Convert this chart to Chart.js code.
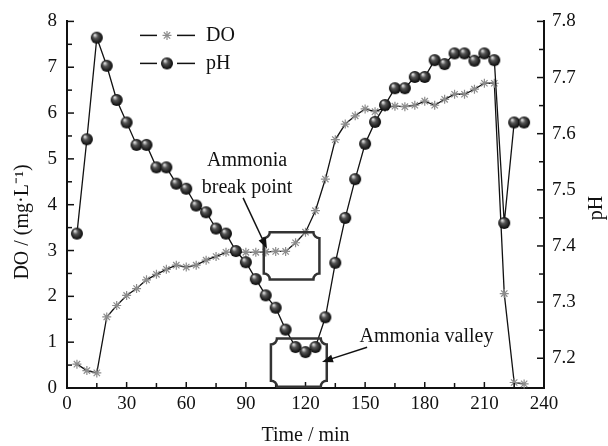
<!DOCTYPE html>
<html>
<head>
<meta charset="utf-8">
<script src="https://cdn.jsdelivr.net/npm/chart.js@4.4.1/dist/chart.umd.min.js"></script>
<style>
html, body { margin: 0; padding: 0; background: #fff; }
#wrap { width: 608px; height: 446px; }
</style>
</head>
<body>
<div id="wrap"><canvas id="do-ph-chart" width="608" height="446"></canvas></div>
<script>
Chart.defaults.font.family = '"Liberation Serif", "Times New Roman", serif'
Chart.defaults.color = '#111'

// time in min
const times = [5, 10, 15, 20, 25, 30, 35, 40, 45, 50, 55, 60, 65, 70, 75, 80, 85, 90, 95, 100, 105, 110, 115, 120,
  125, 130, 135, 140, 145, 150, 155, 160, 165, 170, 175, 180, 185, 190, 195, 200, 205, 210, 215, 220, 225, 230]

const doValues = [0.52, 0.38, 0.33, 1.55, 1.80, 2.02, 2.17, 2.36, 2.48, 2.59, 2.68, 2.64, 2.68, 2.79, 2.87, 2.96,
  2.96, 2.96, 2.96, 2.97, 2.98, 2.98, 3.17, 3.40, 3.87, 4.56, 5.42, 5.76, 5.94, 6.09, 6.03, 6.12, 6.15, 6.14,
  6.17, 6.26, 6.17, 6.30, 6.41, 6.41, 6.52, 6.65, 6.65, 2.06, 0.12, 0.09]

const phValues = [7.422, 7.590, 7.771, 7.721, 7.660, 7.620, 7.580, 7.580, 7.540, 7.540, 7.511, 7.502, 7.472,
  7.460, 7.431, 7.422, 7.391, 7.371, 7.341, 7.312, 7.290, 7.251, 7.220, 7.211, 7.220, 7.273, 7.370, 7.450,
  7.519, 7.582, 7.621, 7.651, 7.681, 7.681, 7.701, 7.701, 7.731, 7.724, 7.743, 7.743, 7.730, 7.743, 7.731,
  7.441, 7.620, 7.620]

const timeTicks = [0, 30, 60, 90, 120, 150, 180, 210, 240]
const doTicks = [0, 1, 2, 3, 4, 5, 6, 7, 8]
const phTicks = [7.2, 7.3, 7.4, 7.5, 7.6, 7.7, 7.8]

const seriesNames = ['DO', 'pH']

// boxes and notes in data units (time, DO)
const boxes = [
  { t0: 99, t1: 127, v0: 2.37, v1: 3.40 },
  { t0: 102.6, t1: 130.7, v0: 0.03, v1: 1.08 }
]
const notes = [
  { lines: ['Ammonia', 'break point'], t: 90.6, v: [4.96, 4.37], align: 'center', from: [88.6, 4.15], to: [100.6, 3.04] },
  { lines: ['Ammonia valley'], t: 147.2, v: [1.11], align: 'left', from: [151, 0.89], to: [128.3, 0.57] }
]

function makeBall(r) {
  const c = document.createElement('canvas')
  const s = r * 2 + 2
  c.width = s; c.height = s
  const g = c.getContext('2d')
  const cx = s / 2, cy = s / 2
  const grad = g.createRadialGradient(cx - r * 0.35, cy - r * 0.45, r * 0.1, cx, cy, r)
  grad.addColorStop(0, '#d8d8d8')
  grad.addColorStop(0.35, '#555')
  grad.addColorStop(1, '#050505')
  g.fillStyle = grad
  g.beginPath(); g.arc(cx, cy, r, 0, Math.PI * 2); g.fill()
  return c
}
const ball = makeBall(6)

const doPoints = times.map((t, i) => ({ x: t, y: doValues[i] }))
const phPoints = times.map((t, i) => ({ x: t, y: phValues[i] }))

function arrow(ctx, x0, y0, x1, y1) {
  const a = Math.atan2(y1 - y0, x1 - x0)
  const len = 11, hw = 4
  ctx.beginPath()
  ctx.moveTo(x0, y0)
  ctx.lineTo(x1 - Math.cos(a) * len * 0.8, y1 - Math.sin(a) * len * 0.8)
  ctx.stroke()
  ctx.beginPath()
  ctx.moveTo(x1, y1)
  ctx.lineTo(x1 - Math.cos(a) * len - Math.sin(a) * hw, y1 - Math.sin(a) * len + Math.cos(a) * hw)
  ctx.lineTo(x1 - Math.cos(a) * len + Math.sin(a) * hw, y1 - Math.sin(a) * len - Math.cos(a) * hw)
  ctx.closePath()
  ctx.fill()
}

function notchedBox(ctx, x0, y0, x1, y1, r) {
  ctx.beginPath()
  ctx.moveTo(x0 + r, y0)
  ctx.lineTo(x1 - r, y0)
  ctx.arc(x1, y0, r, Math.PI, Math.PI / 2, true)
  ctx.lineTo(x1, y1 - r)
  ctx.arc(x1, y1, r, -Math.PI / 2, Math.PI, true)
  ctx.lineTo(x0 + r, y1)
  ctx.arc(x0, y1, r, 0, -Math.PI / 2, true)
  ctx.lineTo(x0, y0 + r)
  ctx.arc(x0, y0, r, Math.PI / 2, 0, true)
  ctx.closePath()
  ctx.stroke()
}

const extras = {
  id: 'extras',
  afterDatasetsDraw(chart) {
    const { ctx, chartArea: a, scales } = chart
    const sx = scales.x, sy = scales.y, sp = scales.y1
    ctx.save()
    ctx.strokeStyle = '#111'
    ctx.lineWidth = 1.5
    // inward tick marks, major and minor
    for (let i = 0; i < timeTicks.length; i++) {
      const px = sx.getPixelForValue(timeTicks[i])
      ctx.beginPath(); ctx.moveTo(px, a.bottom); ctx.lineTo(px, a.bottom - 6); ctx.stroke()
      if (i < timeTicks.length - 1) {
        const mx = sx.getPixelForValue((timeTicks[i] + timeTicks[i + 1]) / 2)
        ctx.beginPath(); ctx.moveTo(mx, a.bottom); ctx.lineTo(mx, a.bottom - 5); ctx.stroke()
      }
    }
    for (let i = 0; i < doTicks.length; i++) {
      const py = sy.getPixelForValue(doTicks[i])
      ctx.beginPath(); ctx.moveTo(a.left, py); ctx.lineTo(a.left + 7, py); ctx.stroke()
      if (i < doTicks.length - 1) {
        const my = sy.getPixelForValue((doTicks[i] + doTicks[i + 1]) / 2)
        ctx.beginPath(); ctx.moveTo(a.left, my); ctx.lineTo(a.left + 5, my); ctx.stroke()
      }
    }
    for (let i = 0; i < phTicks.length; i++) {
      const py = sp.getPixelForValue(phTicks[i])
      ctx.beginPath(); ctx.moveTo(a.right, py); ctx.lineTo(a.right - 7, py); ctx.stroke()
      if (i < phTicks.length - 1) {
        const my = sp.getPixelForValue((phTicks[i] + phTicks[i + 1]) / 2)
        ctx.beginPath(); ctx.moveTo(a.right, my); ctx.lineTo(a.right - 5, my); ctx.stroke()
      }
    }

    // boxes
    ctx.strokeStyle = '#333'
    ctx.lineWidth = 2.5
    boxes.forEach(b => {
      notchedBox(ctx, sx.getPixelForValue(b.t0), sy.getPixelForValue(b.v1),
        sx.getPixelForValue(b.t1), sy.getPixelForValue(b.v0), 6)
    })

    // notes with arrows
    ctx.fillStyle = '#111'
    ctx.strokeStyle = '#111'
    ctx.lineWidth = 1.5
    ctx.font = '20px "Liberation Serif", serif'
    ctx.textBaseline = 'middle'
    notes.forEach(n => {
      ctx.textAlign = n.align
      n.lines.forEach((s, i) => ctx.fillText(s, sx.getPixelForValue(n.t), sy.getPixelForValue(n.v[i])))
      arrow(ctx, sx.getPixelForValue(n.from[0]), sy.getPixelForValue(n.from[1]),
        sx.getPixelForValue(n.to[0]), sy.getPixelForValue(n.to[1]))
    })

    // legend
    const lx = a.left + 73
    const rows = [a.top + 14, a.top + 42]
    ctx.font = '20px "Liberation Serif", serif'
    ctx.textAlign = 'left'
    rows.forEach((ry, i) => {
      ctx.strokeStyle = '#111'
      ctx.lineWidth = 1.5
      ctx.beginPath(); ctx.moveTo(lx, ry); ctx.lineTo(lx + 17, ry); ctx.stroke()
      ctx.beginPath(); ctx.moveTo(lx + 37, ry); ctx.lineTo(lx + 55, ry); ctx.stroke()
      const mx = lx + 27
      if (i === 0) {
        ctx.strokeStyle = '#8c8c8c'
        ctx.lineWidth = 1.2
        const r = 4.5
        for (let k = 0; k < 4; k++) {
          const ang = k * Math.PI / 4
          ctx.beginPath()
          ctx.moveTo(mx - Math.cos(ang) * r, ry - Math.sin(ang) * r)
          ctx.lineTo(mx + Math.cos(ang) * r, ry + Math.sin(ang) * r)
          ctx.stroke()
        }
      } else {
        ctx.drawImage(ball, mx - ball.width / 2, ry - ball.height / 2)
      }
      ctx.fillStyle = '#111'
      ctx.fillText(seriesNames[i], lx + 66, ry)
    })

    // axis titles
    ctx.font = '20px "Liberation Serif", serif'
    ctx.textAlign = 'center'
    ctx.fillText('Time / min', (a.left + a.right) / 2, 436)
    ctx.save()
    ctx.translate(23, 222)
    ctx.rotate(-Math.PI / 2)
    ctx.fillText('DO / (mg·L⁻¹)', 0, 0)
    ctx.restore()
    ctx.save()
    ctx.translate(597, 208)
    ctx.rotate(-Math.PI / 2)
    ctx.fillText('pH', 0, 0)
    ctx.restore()
    ctx.restore()
  }
}

const ctxDOPH = document.getElementById('do-ph-chart')
const doPhChart = new Chart(ctxDOPH, {
  type: 'line',
  data: {
    datasets: [{
      label: seriesNames[1],
      data: phPoints,
      yAxisID: 'y1',
      borderColor: '#111',
      borderWidth: 1.3,
      pointStyle: ball,
      pointRadius: 6,
      clip: false,
      order: 0
    }, {
      label: seriesNames[0],
      data: doPoints,
      yAxisID: 'y',
      borderColor: '#111',
      borderWidth: 1.3,
      pointStyle: 'star',
      pointRadius: 4.5,
      pointBorderColor: '#8c8c8c',
      pointBackgroundColor: '#8c8c8c',
      pointBorderWidth: 1.2,
      clip: false,
      order: 1
    }]
  },
  options: {
    responsive: false,
    animation: false,
    devicePixelRatio: 1,
    layout: { padding: { top: 20, left: 0, right: 0, bottom: 0 } },
    plugins: { legend: { display: false }, tooltip: { enabled: false } },
    scales: {
      x: {
        type: 'linear',
        min: 0,
        max: 240,
        afterBuildTicks: s => { s.ticks = timeTicks.map(v => ({ value: v })) },
        afterFit: s => { s.height = 58 },
        ticks: { font: { size: 19 }, padding: 5, maxRotation: 0, autoSkip: false },
        grid: { display: false, drawTicks: false },
        border: { display: true, color: '#111', width: 2 }
      },
      y: {
        position: 'left',
        min: 0,
        max: 8,
        afterBuildTicks: s => { s.ticks = doTicks.map(v => ({ value: v })) },
        afterFit: s => { s.width = 67 },
        ticks: { font: { size: 19 }, padding: 10 },
        grid: { display: false, drawTicks: false },
        border: { display: true, color: '#111', width: 2 }
      },
      y1: {
        position: 'right',
        min: 7.147,
        max: 7.8,
        afterBuildTicks: s => { s.ticks = phTicks.map(v => ({ value: v })) },
        afterFit: s => { s.width = 64 },
        ticks: { font: { size: 19 }, padding: 8, callback: v => v.toFixed(1) },
        grid: { display: false, drawTicks: false },
        border: { display: true, color: '#111', width: 2 }
      }
    }
  },
  plugins: [extras]
})
</script>
</body>
</html>
